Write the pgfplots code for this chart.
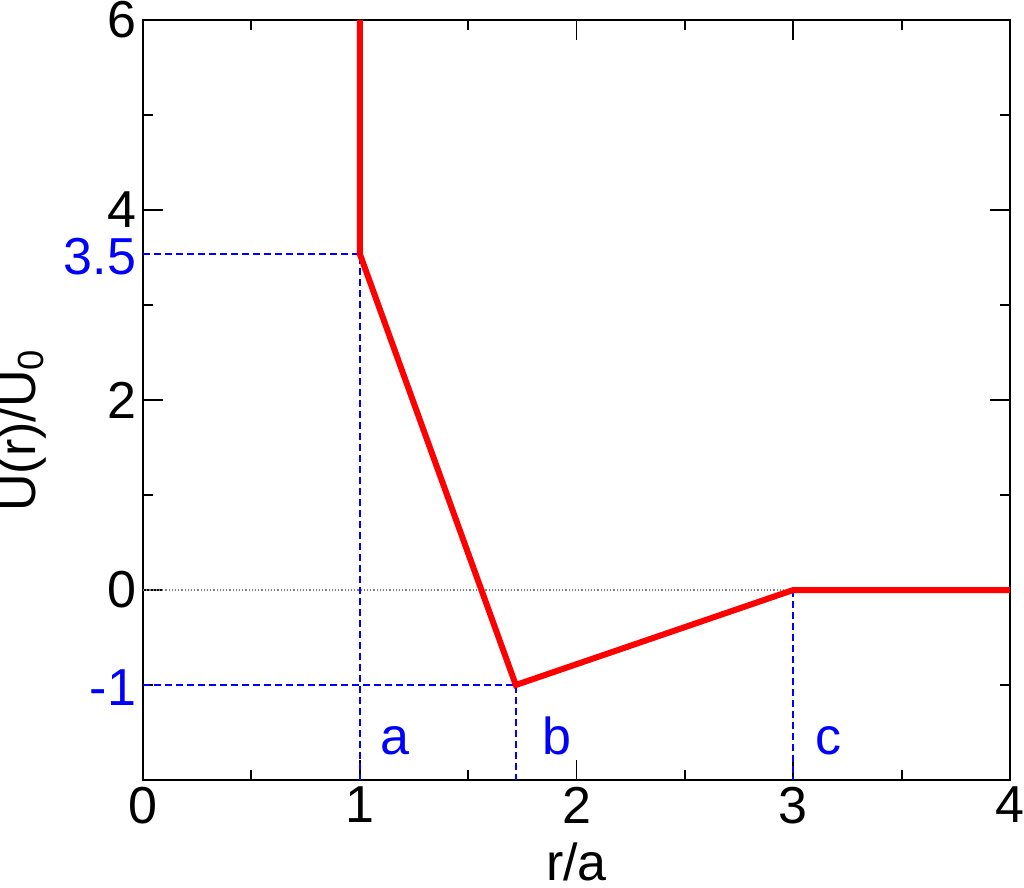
\documentclass[border=0pt]{standalone}
\usepackage{fontspec}
\setmainfont{Liberation Sans}
\usepackage{pgfplots}
\pgfplotsset{compat=1.18}
\definecolor{dblue}{RGB}{0,0,255}
\begin{document}
\begin{tikzpicture}
\begin{axis}[
  name=ax,
  scale only axis, width=433.5pt, height=380pt,
  xmin=0, xmax=4, ymin=-2, ymax=6,
  xtick={0,1,2,3,4}, xticklabels={0,1,2,3,4},
  minor x tick num=1,
  ytick={-2,0,2,4,6}, yticklabels={,0,2,4,6},
  minor y tick num=1,
  extra y ticks={3.54,-1}, extra y tick labels={3.5\hspace{2pt},-1\hspace{5pt}},
  extra y tick style={major tick length=0pt, tick label style={text=dblue, yshift=-1.5pt}},
  tick style={black, line width=0.9pt},
  major tick length=10pt, minor tick length=5pt,
  axis line style={line width=1pt},
  tick label style={font=\fontsize{26}{30}\selectfont},
  label style={font=\fontsize{26}{30}\selectfont},
  xlabel={r/a}, ylabel={U(r)/U\textsubscript{0}},
  xlabel style={at={(axis description cs:0.5,-0.1316)}, anchor=base},
  ylabel style={at={(axis description cs:-0.1396,0.46)}, anchor=center},
  clip=false,
]
\addplot[draw=gray, densely dotted, line width=0.6pt] coordinates {(0,0) (4,0)};
\addplot[draw=dblue, line width=0.8pt, dash pattern=on 3.5pt off 2pt] coordinates {(0,3.54) (1,3.54) (1,-2)};
\addplot[draw=dblue, line width=0.8pt, dash pattern=on 3.5pt off 2pt] coordinates {(0,-1) (1.72,-1) (1.72,-2)};
\addplot[draw=dblue, line width=0.8pt, dash pattern=on 3.5pt off 2pt] coordinates {(3,0) (3,-2)};
\addplot[draw=red, line width=3pt] coordinates {(1,6) (1,3.54) (1.72,-1) (3,0) (4,0)};
\node[text=dblue, anchor=base west, inner sep=0pt, font=\fontsize{26}{30}\selectfont] at (axis cs:1.094,-1.73) {a};
\node[text=dblue, anchor=base west, inner sep=0pt, font=\fontsize{26}{30}\selectfont] at (axis cs:1.84,-1.73) {b};
\node[text=dblue, anchor=base west, inner sep=0pt, font=\fontsize{26}{30}\selectfont] at (axis cs:3.10,-1.73) {c};
\end{axis}
\pgfresetboundingbox
\path ([xshift=-71.5pt,yshift=-53.5pt]ax.south west) rectangle ([xshift=7pt,yshift=10pt]ax.north east);
\end{tikzpicture}
\end{document}
